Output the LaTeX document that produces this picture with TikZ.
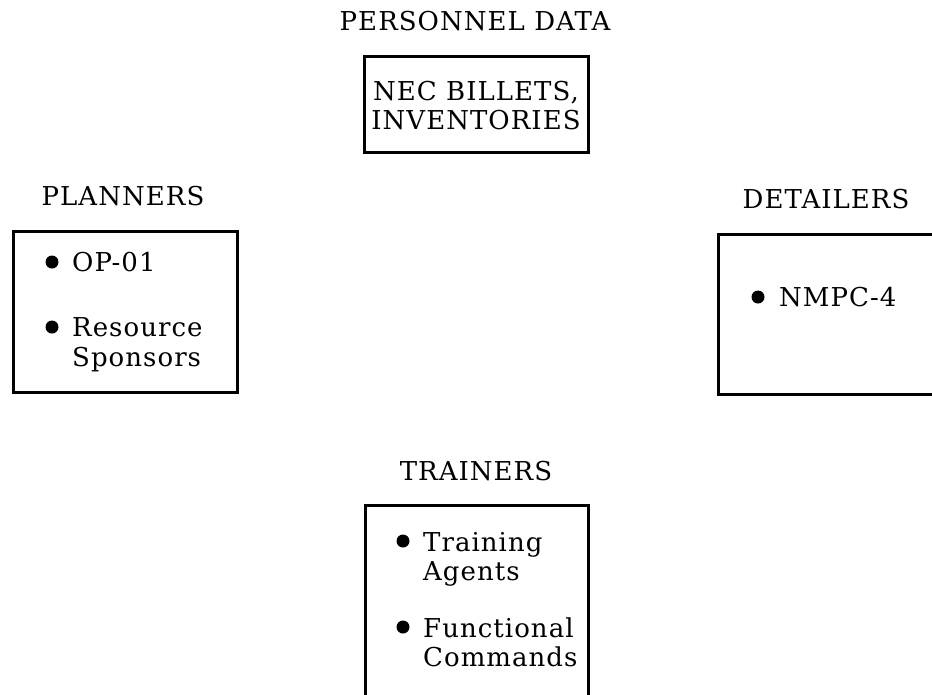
\documentclass[tikz,border=0pt]{standalone}
\usepackage{fontspec}
\setmainfont{DejaVu Serif}[LetterSpace=4]
\begin{document}
\begin{tikzpicture}[x=1pt,y=-1pt,
  box/.style={draw=black, line width=2.6pt, rectangle, inner sep=0pt, anchor=north west},
  head/.style={anchor=base, inner sep=0pt, font=\fontsize{26}{30}\selectfont},
  txt/.style={anchor=base west, inner sep=0pt, font=\fontsize{26}{30}\selectfont},
  ctxt/.style={anchor=base, inner sep=0pt, font=\fontsize{26}{30}\selectfont},
  dot/.style={circle, fill=black, inner sep=0pt, minimum size=13pt}]
\useasboundingbox (0,0) rectangle (932,694);
\clip (0,0) rectangle (932,694);
\fill[white] (0,0) rectangle (932,694);

% headings
\node[head] (hpers) at (475,30) {PERSONNEL DATA};
\node[head] (hplan) at (123,205) {PLANNERS};
\node[head] (hdet) at (826,208) {DETAILERS};
\node[head] (htrain) at (476,480) {TRAINERS};

% boxes
\node[box, minimum width=224pt, minimum height=96pt] (pbox) at (363,55) {};
\node[box, minimum width=224pt, minimum height=161pt] (plbox) at (12,230) {};
\node[box, minimum width=240pt, minimum height=160pt] (dbox) at (717,233) {};
\node[box, minimum width=223pt, minimum height=220pt] (tbox) at (364,504) {};

% personnel data box
\node[ctxt] (nec1) at (476,100) {NEC BILLETS,};
\node[ctxt] (nec2) at (476,129) {INVENTORIES};

% planners
\node[dot] (pd1) at (52,262) {};
\node[txt] (op) at (72,271) {OP-01};
\node[dot] (pd2) at (52,327) {};
\node[txt] (res) at (72,336) {Resource};
\node[txt] (spo) at (72,366) {Sponsors};

% detailers
\node[dot] (dd1) at (758,297) {};
\node[txt] (nmpc) at (779,306) {NMPC-4};

% trainers
\node[dot] (td1) at (403,541) {};
\node[txt] (tra) at (423,551) {Training};
\node[txt] (age) at (423,580) {Agents};
\node[dot] (td2) at (403,627) {};
\node[txt] (fun) at (423,637) {Functional};
\node[txt] (com) at (423,666) {Commands};
\end{tikzpicture}
\end{document}
